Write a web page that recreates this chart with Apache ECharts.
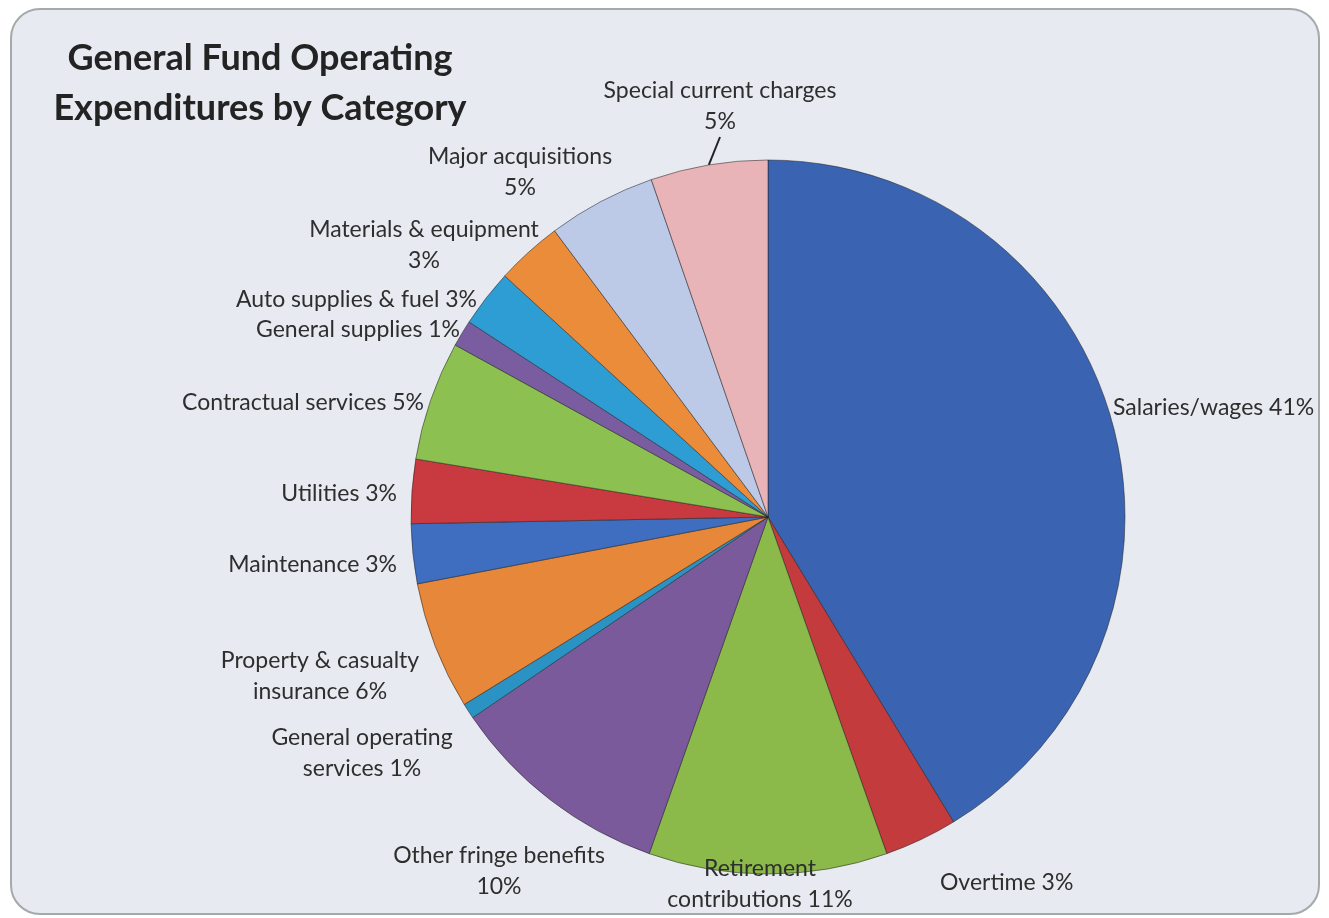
<!DOCTYPE html>
<html>
<head>
<meta charset="utf-8">
<title>General Fund Operating Expenditures by Category</title>
<script src="https://cdn.jsdelivr.net/npm/echarts@6/dist/echarts.min.js"></script>
<style>
  html, body { margin: 0; padding: 0; background: #ffffff; }
  #card {
    position: absolute; left: 10px; top: 8px; width: 1306px; height: 903px;
    border: 2px solid #a4a9aa; border-radius: 30px; background: #e7eaf0;
  }
  #chart { position: absolute; left: 0; top: 0; width: 1329px; height: 918px; }
</style>
</head>
<body>
<div id="card"></div>
<div id="chart"></div>
<script>
// slices, clockwise from 12 o'clock
const categories = [
  'Salaries/wages', 'Overtime', 'Retirement contributions', 'Other fringe benefits',
  'General operating services', 'Property & casualty insurance', 'Maintenance',
  'Utilities', 'Contractual services', 'General supplies', 'Auto supplies & fuel',
  'Materials & equipment', 'Major acquisitions', 'Special current charges'
]
const values = [41.3, 3.3, 10.8, 10.1, 0.7, 5.8, 2.7, 2.9, 5.4, 1.2, 2.6, 3.0, 4.9, 5.3]
const colors = [
  '#3a63b1', '#c33b3c', '#8cba4a', '#7b5a9c', '#2b93c4', '#e6873a', '#3f6ec0',
  '#c83a3f', '#8cc050', '#7a5ca0', '#2d9dd4', '#ea8c3a', '#bccae8', '#e8b4b8'
]

// where each label goes: [x, y, align]
const labelPos = [
  [1113, 408, 'left'], [940, 883, 'left'], [760, 884, 'center'], [499, 871, 'center'],
  [362, 753, 'center'], [320, 676, 'center'], [397, 565, 'right'], [397, 494, 'right'],
  [424, 403, 'right'], [460, 330, 'right'], [477, 300, 'right'], [424, 245, 'center'],
  [520, 172, 'center'], [720, 106, 'center']
]
const wrapName = {
  2: 'Retirement\ncontributions',
  4: 'General operating\nservices',
  5: 'Property & casualty\ninsurance'
}
const pctOnNewLine = [3, 11, 12, 13]

const chart = echarts.init(document.getElementById('chart'))

const option = {
  animation: false,
  title: {
    text: 'General Fund Operating\nExpenditures by Category',
    left: 255, top: 28, textAlign: 'center',
    textStyle: { fontFamily: 'Lato', fontWeight: 'bold', fontSize: 36, lineHeight: 50, color: '#232323' }
  },
  series: [{
    type: 'pie',
    center: [768, 517],
    radius: 357,
    startAngle: 90,
    clockwise: true,
    percentPrecision: 0,
    avoidLabelOverlap: false,
    itemStyle: { borderColor: 'rgba(30,30,30,0.5)', borderWidth: 1 },
    label: {
      show: true,
      position: 'outside',
      fontFamily: 'Lato',
      fontSize: 23,
      lineHeight: 31,
      color: '#2e2e2e',
      formatter: (p) => {
        const name = wrapName[p.dataIndex] || p.name
        const sep = pctOnNewLine.includes(p.dataIndex) ? '\n' : ' '
        return name + sep + p.percent + '%'
      }
    },
    labelLine: { show: false },
    labelLayout: (p) => {
      const lp = labelPos[p.dataIndex]
      return { x: lp[0], y: lp[1], align: lp[2], verticalAlign: 'middle' }
    },
    data: categories.map((name, i) => ({
      name,
      value: values[i],
      itemStyle: { color: colors[i] },
      labelLine: i === 13 ? { show: true, length: 8, length2: 0, lineStyle: { color: '#222', width: 2 } } : { show: false }
    }))
  }]
}

chart.setOption(option)
</script>
</body>
</html>
